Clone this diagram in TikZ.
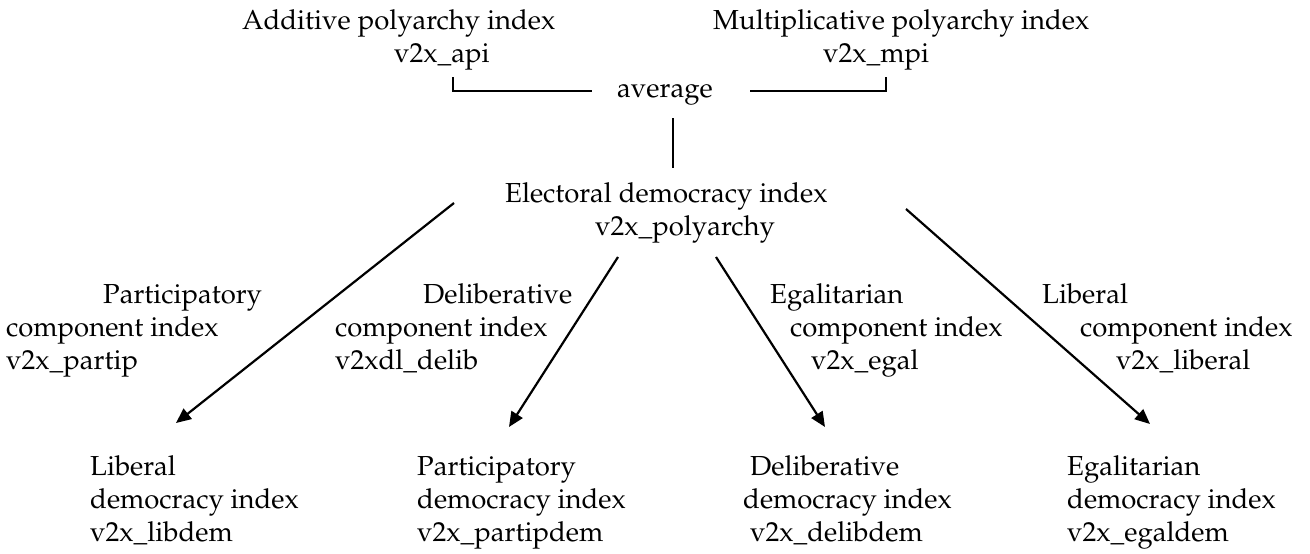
\documentclass[tikz,border=0pt]{standalone}
\usepackage[T1]{fontenc}
\usepackage{mathpazo}
\usetikzlibrary{arrows.meta}
\newcommand\lblfont{\fontsize{27.5}{33}\selectfont}
\newcommand\blk[1]{\begin{tabular}[t]{@{}l@{}}#1\end{tabular}}
\begin{document}
\begin{tikzpicture}[x=1pt,y=-1pt,
  lbl/.style={inner sep=0pt,anchor=base west,font=\lblfont},
  arr/.style={line width=2.2pt,-{Triangle[length=15pt,width=13pt]}},
  tie/.style={line width=1.4pt}]
\useasboundingbox (0,0) rectangle (1310,554);

% top row: the two polyarchy indices and their average
\node[lbl] (api) at (242,29) {\blk{Additive polyarchy index\\\hspace*{152pt}v2x\_api}};
\node[lbl] (mpi) at (713,29) {\blk{Multiplicative polyarchy index\\\hspace*{110pt}v2x\_mpi}};
\node[lbl] (avg) at (617,97) {average};
\node[lbl] (elec) at (505,202) {\blk{Electoral democracy index\\\hspace*{90pt}v2x\_polyarchy}};

% component indices
\node[lbl] (cpart) at (6,303) {\blk{\hspace*{97pt}Participatory\\component index\\v2x\_partip}};
\node[lbl] (cdelib) at (335,303) {\blk{\hspace*{88pt}Deliberative\\component index\\v2xdl\_delib}};
\node[lbl] (cegal) at (770,303) {\blk{Egalitarian\\\hspace*{20pt}component index\\\hspace*{41pt}v2x\_egal}};
\node[lbl] (clib) at (1042,303) {\blk{Liberal\\\hspace*{38pt}component index\\\hspace*{74pt}v2x\_liberal}};

% high-level democracy indices
\node[lbl] (libdem) at (90,475) {\blk{Liberal\\democracy index\\v2x\_libdem}};
\node[lbl] (partdem) at (417,475) {\blk{Participatory\\democracy index\\v2x\_partipdem}};
\node[lbl] (delibdem) at (743,475) {\blk{\hspace*{7pt}Deliberative\\democracy index\\\hspace*{7pt}v2x\_delibdem}};
\node[lbl] (egaldem) at (1067,475) {\blk{Egalitarian\\democracy index\\v2x\_egaldem}};

% bracket ends and arrow ends
\coordinate (apiB) at (453,77);
\coordinate (apiC) at (453,91);
\coordinate (avgL) at (592,91);
\coordinate (avgR) at (750,91);
\coordinate (mpiC) at (886,91);
\coordinate (mpiB) at (886,77);
\coordinate (avgS) at (673,118);
\coordinate (elecN) at (673,168);

\coordinate (s1) at (454,203);  \coordinate (t1) at (176,423);
\coordinate (s2) at (618,257);  \coordinate (t2) at (509,427);
\coordinate (s3) at (716,257);  \coordinate (t3) at (825,427);
\coordinate (s4) at (906,209);  \coordinate (t4) at (1150,424);

\draw[tie] (apiB) -- (apiC) -- (avgL);
\draw[tie] (avgR) -- (mpiC) -- (mpiB);
\draw[tie] (avgS) -- (elecN);

\draw[arr] (s1) -- (t1);
\draw[arr] (s2) -- (t2);
\draw[arr] (s3) -- (t3);
\draw[arr] (s4) -- (t4);
\end{tikzpicture}
\end{document}
